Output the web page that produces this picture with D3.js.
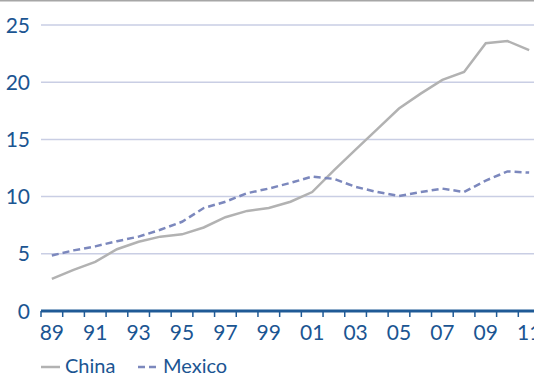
<!DOCTYPE html>
<html>
<head>
<meta charset="utf-8">
<script src="https://cdn.jsdelivr.net/npm/d3@7"></script>
<style>
  body { margin: 0; background: #fff; }
  svg { display: block; font-family: Lato, "Open Sans", sans-serif; }
</style>
</head>
<body>
<div id="chart"></div>
<script>
// years 1989..2011, shown as two-digit labels
var years = ["89","90","91","92","93","94","95","96","97","98","99","00","01","02","03","04","05","06","07","08","09","10","11"]
var tickLabels = ["89","91","93","95","97","99","01","03","05","07","09","11"]
var china = [2.8, 3.6, 4.3, 5.4, 6.05, 6.5, 6.7, 7.3, 8.2, 8.75, 9.0, 9.55, 10.4, 12.3, 14.1, 15.9, 17.7, 19.0, 20.2, 20.9, 23.4, 23.6, 22.8]
var mexico = [4.85, 5.3, 5.65, 6.1, 6.5, 7.1, 7.8, 9.0, 9.55, 10.3, 10.7, 11.2, 11.75, 11.55, 10.85, 10.4, 10.05, 10.4, 10.7, 10.4, 11.4, 12.2, 12.1]
var yTicks = [0, 5, 10, 15, 20, 25]

function drawChart() {
    var width = 534
    var height = 376
    var left = 41
    var plotRight = 540   // category axis runs a little past the frame
    var top = 25
    var bottom = 311

    var svg = d3.select("#chart")
        .append("svg")
        .attr("width", width)
        .attr("height", height)

    var x = d3.scaleBand().domain(years).range([left, plotRight]).padding(0)
    var y = d3.scaleLinear().domain([0, 25]).range([bottom, top])

    // thin rule along the top edge
    svg.append("line")
        .attr("x1", 0).attr("x2", width)
        .attr("y1", 0.5).attr("y2", 0.5)
        .attr("stroke", "#a6a6a6")
        .attr("stroke-width", 2)

    // gridlines
    svg.selectAll(".grid")
        .data(yTicks.filter(function (d) { return d > 0 }))
        .enter()
        .append("line")
        .attr("x1", left).attr("x2", width)
        .attr("y1", function (d) { return y(d) })
        .attr("y2", function (d) { return y(d) })
        .attr("stroke", "#c9cee4")
        .attr("stroke-width", 1.5)

    // y labels
    svg.selectAll(".ylab")
        .data(yTicks)
        .enter()
        .append("text")
        .attr("x", 30)
        .attr("y", function (d) { return y(d) })
        .attr("dy", "0.36em")
        .attr("text-anchor", "end")
        .attr("fill", "#1b5592")
        .style("font-size", "21px")
        .text(function (d) { return d })

    var line = d3.line()
        .x(function (d, i) { return x(years[i]) + x.bandwidth() / 2 })
        .y(function (d) { return y(d) })

    svg.append("path")
        .datum(china)
        .attr("d", line)
        .attr("fill", "none")
        .attr("stroke", "#b2b2b2")
        .attr("stroke-width", 2.5)

    svg.append("path")
        .datum(mexico)
        .attr("d", line)
        .attr("fill", "none")
        .attr("stroke", "#7c88bd")
        .attr("stroke-width", 2.5)
        .attr("stroke-dasharray", "7,4")

    // x axis line and ticks between categories
    svg.append("line")
        .attr("x1", left).attr("x2", width)
        .attr("y1", bottom).attr("y2", bottom)
        .attr("stroke", "#1f5a96")
        .attr("stroke-width", 3)

    svg.selectAll(".xtick")
        .data(years)
        .enter()
        .append("line")
        .attr("x1", function (d) { return x(d) })
        .attr("x2", function (d) { return x(d) })
        .attr("y1", bottom).attr("y2", bottom + 6)
        .attr("stroke", "#1f5a96")
        .attr("stroke-width", 1.5)

    svg.selectAll(".xlab")
        .data(tickLabels)
        .enter()
        .append("text")
        .attr("x", function (d) { return x(d) + x.bandwidth() / 2 })
        .attr("y", 340)
        .attr("text-anchor", "middle")
        .attr("fill", "#1b5592")
        .style("font-size", "21px")
        .text(function (d) { return d })

    // legend
    var legend = [
        { name: "China", color: "#b2b2b2", dash: null, x: 41 },
        { name: "Mexico", color: "#7c88bd", dash: "7,4", x: 138 }
    ]
    var lg = svg.selectAll(".legend")
        .data(legend)
        .enter()
        .append("g")
        .attr("transform", function (d) { return "translate(" + d.x + ",367)" })

    lg.append("line")
        .attr("x1", 0).attr("x2", 19)
        .attr("y1", 0).attr("y2", 0)
        .attr("stroke", function (d) { return d.color })
        .attr("stroke-width", 2.5)
        .attr("stroke-dasharray", function (d) { return d.dash })

    lg.append("text")
        .attr("x", function (d, i) { return i == 0 ? 24 : 25 })
        .attr("y", 6)
        .attr("fill", "#1b5592")
        .style("font-size", "20px")
        .text(function (d) { return d.name })
}

document.addEventListener('DOMContentLoaded', drawChart, false);
</script>
</body>
</html>
